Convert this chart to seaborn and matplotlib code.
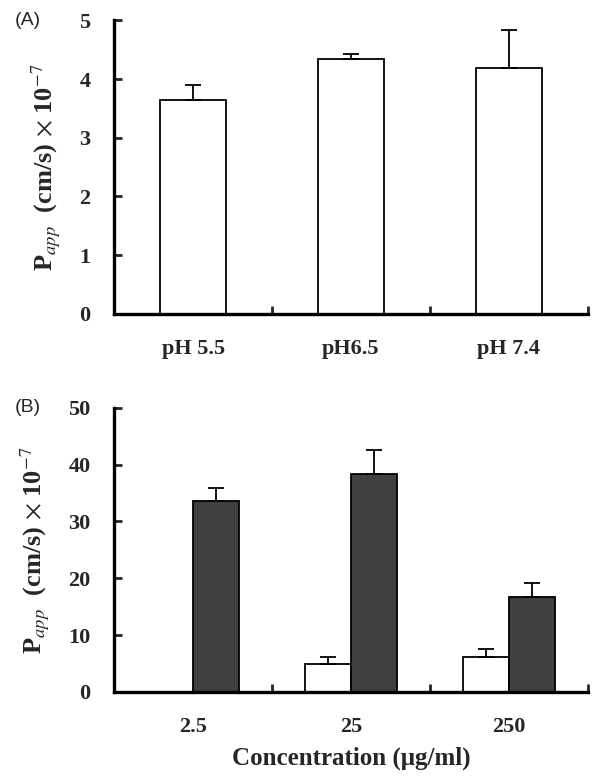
import numpy as np
import pandas as pd
import seaborn as sns
import matplotlib.pyplot as plt

# Panel A data
ph_labels = ['pH 5.5', 'pH6.5', 'pH 7.4']
ph_papp = [3.64, 4.34, 4.18]
ph_err = [0.25, 0.09, 0.66]

# Panel B data
conc_labels = ['2.5', '25', '250']
group_names = ['white', 'dark']
papp_white = [0.0, 5.0, 6.1]
err_white = [0.0, 1.1, 1.4]
papp_dark = [33.5, 38.4, 16.7]
err_dark = [2.3, 4.2, 2.4]

sns.set_style('white')
plt.rcParams['font.family'] = ['Liberation Serif', 'DejaVu Serif']
plt.rcParams['mathtext.fontset'] = 'stix'

fig = plt.figure(figsize=(6.01, 7.81), dpi=100)
axA = fig.add_axes([0.19, 0.598, 0.788, 0.376])
axB = fig.add_axes([0.19, 0.114, 0.788, 0.364])

ylab = r'P$_{\mathit{app}}$  (cm/s) $\times$ 10$^{-7}$'


def style_axis(ax, ymax, step):
    sns.despine(ax=ax)
    for s in ['left', 'bottom']:
        ax.spines[s].set_linewidth(2.4)
        ax.spines[s].set_color('black')
    ax.set_xlim(-0.5, 2.5)
    ax.set_ylim(0, ymax)
    ax.set_yticks(np.arange(0, ymax + 0.001, step))
    ax.tick_params(axis='y', direction='in', length=6, width=2, labelsize=16, pad=17, left=True)
    ax.tick_params(axis='x', which='major', length=0, labelsize=16, pad=18)
    ax.set_xticks([0.5, 1.5, 2.5], minor=True)
    ax.tick_params(axis='x', which='minor', direction='in', length=6, width=2, bottom=True)
    for lab in ax.get_yticklabels():
        lab.set_fontweight('bold')
    ax.set_ylabel(ylab, fontsize=19, fontweight='bold', labelpad=12)


# Panel A
dfA = pd.DataFrame({'ph': ph_labels, 'papp': ph_papp})
sns.barplot(data=dfA, x='ph', y='papp', color='white', edgecolor='black',
            linewidth=1.3, width=0.42, errorbar=None, ax=axA)
for p, e in zip(axA.patches, ph_err):
    xc = p.get_x() + p.get_width() / 2
    axA.errorbar(xc, p.get_height(), yerr=[[0], [e]], fmt='none', ecolor='black',
                 elinewidth=1.3, capsize=6, capthick=1.3)
style_axis(axA, 5, 1)
axA.set_xlabel('')
axA.set_xticks([0, 1, 2])
axA.set_xticklabels(ph_labels, fontweight='bold', fontsize=16)
fig.text(0.025, 0.974, '(A)', fontsize=14, family='Liberation Sans', va='center', ha='left')

# Panel B
dfB = pd.DataFrame({
    'conc': conc_labels * 2,
    'group': [group_names[0]] * 3 + [group_names[1]] * 3,
    'papp': papp_white + papp_dark,
})
sns.barplot(data=dfB, x='conc', y='papp', hue='group',
            palette={'white': 'white', 'dark': '#404040'}, edgecolor='black',
            linewidth=1.3, width=0.58, errorbar=None, legend=False, ax=axB)
errs = err_white + err_dark
for p, e in zip(axB.patches[:6], errs):
    if p.get_height() <= 0:
        continue
    xc = p.get_x() + p.get_width() / 2
    axB.errorbar(xc, p.get_height(), yerr=[[0], [e]], fmt='none', ecolor='black',
                 elinewidth=1.3, capsize=6, capthick=1.3)
style_axis(axB, 50, 10)
axB.set_xticks([0, 1, 2])
axB.set_xticklabels(conc_labels, fontweight='bold', fontsize=16)
axB.set_xlabel('Concentration (μg/ml)', fontsize=18, fontweight='bold', labelpad=7)
fig.text(0.025, 0.478, '(B)', fontsize=14, family='Liberation Sans', va='center', ha='left')

fig.savefig('out.png', dpi=100)
